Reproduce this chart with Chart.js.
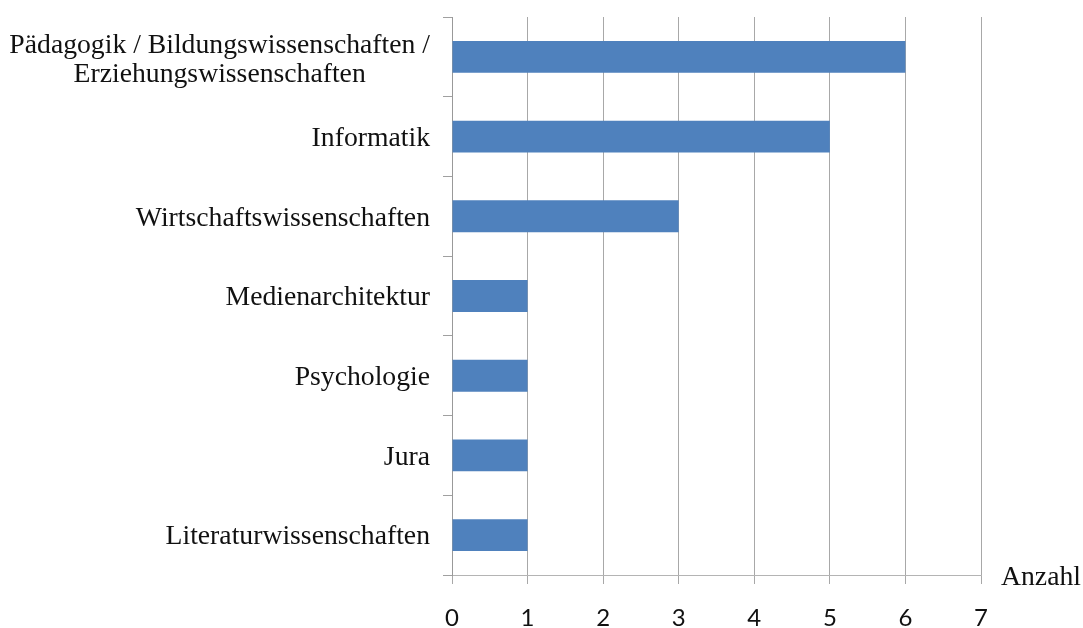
<!DOCTYPE html>
<html>
<head>
<meta charset="utf-8">
<script src="https://cdn.jsdelivr.net/npm/chart.js@4"></script>
<style>
  html, body { margin: 0; padding: 0; background: #fff; }
  #wrap { width: 1083px; height: 628px; }
</style>
</head>
<body>
<div id="wrap"><canvas id="fachChart" width="1083" height="628"></canvas></div>
<script>
const categories = [
  ['Pädagogik / Bildungswissenschaften /', 'Erziehungswissenschaften'],
  'Informatik',
  'Wirtschaftswissenschaften',
  'Medienarchitektur',
  'Psychologie',
  'Jura',
  'Literaturwissenschaften'
];
const counts = [6, 5, 3, 1, 1, 1, 1];
const xTickLabels = ['0', '1', '2', '3', '4', '5', '6', '7'];
const axisTitle = 'Anzahl';

const serif = '"Liberation Serif", "Times New Roman", serif';

// y labels drawn by hand: single lines right aligned, multi-line label centred
const labelPlugin = {
  id: 'labels',
  afterDraw(chart) {
    const c = chart.ctx;
    const y = chart.scales.y;
    const x = chart.scales.x;
    c.save();
    c.font = '27.7px ' + serif;
    c.fillStyle = '#111';
    c.textBaseline = 'middle';
    const right = y.right - 22;
    chart.data.labels.forEach((lab, i) => {
      const cy = y.getPixelForValue(i) + 2;
      if (Array.isArray(lab)) {
        const w = Math.max(...lab.map(s => c.measureText(s).width));
        const lh = 29;
        c.textAlign = 'center';
        lab.forEach((s, j) => {
          c.fillText(s, right - w / 2, cy + 1 + (j - (lab.length - 1) / 2) * lh);
        });
      } else {
        c.textAlign = 'right';
        c.fillText(lab, right, cy);
      }
    });
    // axis title next to the end of the value axis
    c.textAlign = 'left';
    c.textBaseline = 'alphabetic';
    c.fillText(axisTitle, x.right + 20, x.top + 10);
    c.restore();
  }
};

new Chart(document.getElementById('fachChart'), {
  type: 'bar',
  data: {
    labels: categories,
    datasets: [{
      data: counts,
      backgroundColor: '#4f81bd',
      categoryPercentage: 1,
      barPercentage: 0.4
    }]
  },
  options: {
    indexAxis: 'y',
    responsive: false,
    animation: false,
    layout: { padding: { left: 0, right: 102, top: 17, bottom: 0 } },
    scales: {
      x: {
        min: 0,
        max: 7,
        ticks: {
          stepSize: 1,
          padding: 20,
          color: '#111',
          font: { family: 'Lato, "Open Sans", sans-serif', size: 24 },
          callback: (v, i) => xTickLabels[i]
        },
        grid: { color: '#a8a8a8', tickLength: 9 },
        border: { color: '#b4b4b4' },
        afterFit: s => { s.height = 53; }
      },
      y: {
        ticks: { display: false },
        grid: { drawOnChartArea: false, color: '#a0a0a0', tickLength: 9, offset: true },
        border: { color: '#999' },
        afterFit: s => { s.width = 452; }
      }
    },
    plugins: {
      legend: { display: false },
      tooltip: { enabled: false }
    }
  },
  plugins: [labelPlugin]
});
</script>
</body>
</html>
